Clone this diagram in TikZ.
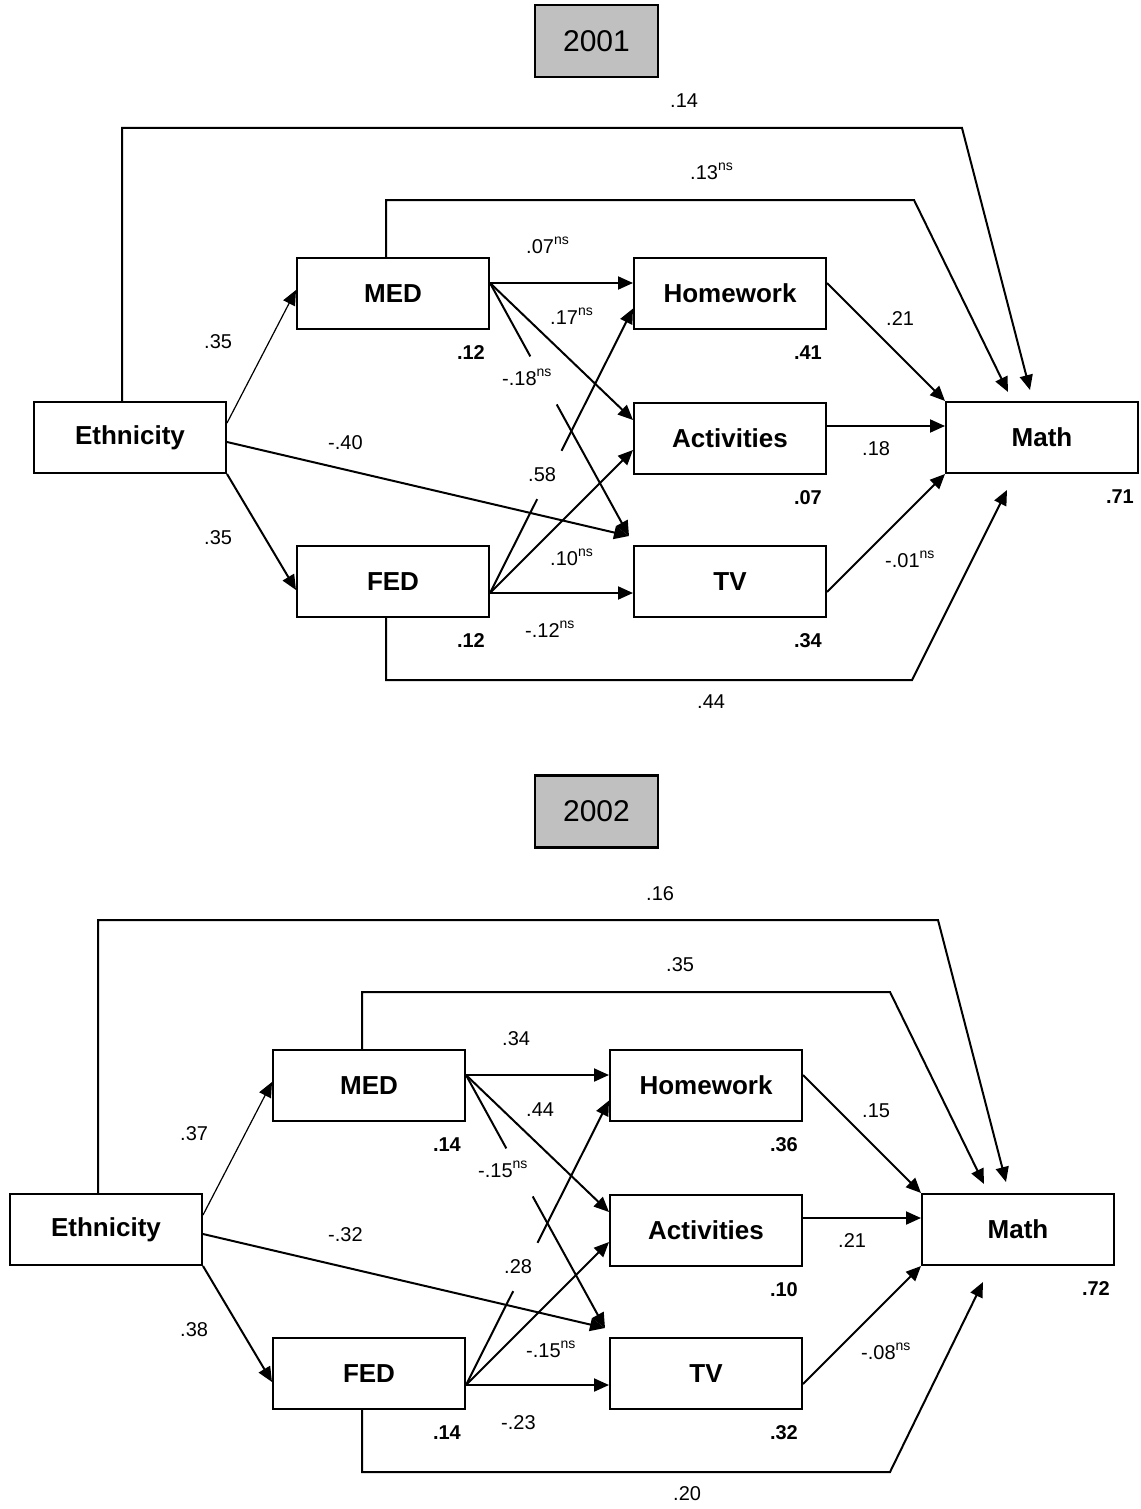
\documentclass[tikz,border=0pt]{standalone}
\usepackage{fontspec}
\setmainfont{Liberation Sans}
\usetikzlibrary{arrows.meta,calc}
\definecolor{yearfill}{HTML}{C0C0C0}
% superscript "ns" for non-significant coefficients
\newcommand\nsup{\raisebox{8.5pt}{\fontsize{14}{14}\selectfont ns}}
\tikzset{
  var/.style={draw, line width=2pt, minimum width=192pt, minimum height=71pt,
    inner sep=0pt, font=\fontsize{26}{30}\selectfont\bfseries},
  yearbox/.style={draw, line width=2.4pt, fill=yearfill, minimum width=123pt,
    minimum height=72pt, inner sep=0pt, font=\fontsize{30}{34}\selectfont},
  coef/.style={anchor=base west, inner sep=0pt, font=\fontsize{20}{24}\selectfont},
  rsq/.style={anchor=east, inner sep=0pt, font=\fontsize{20}{24}\selectfont\bfseries},
  link/.style={line width=2pt, -{Triangle[length=15pt,width=13pt]}},
  thinlink/.style={line width=1.2pt, -{Triangle[length=15pt,width=13pt]}},
  seg/.style={line width=2pt},
}
\begin{document}
\begin{tikzpicture}[x=1pt,y=-1pt]
\useasboundingbox (0,0) rectangle (1140,1509);

% ---------------- year headers ----------------
\node[yearbox] (yA) at (596.5,41) {2001};
\node[yearbox] (yB) at (596.5,811.5) {2002};

% ---------------- model 2001 ----------------
\begin{scope}
\node[var] (ethA)  at (130,437.5) {Ethnicity};
\node[var] (medA)  at (393,293.5) {MED};
\node[var] (fedA)  at (393,581.5) {FED};
\node[var] (hwA)   at (730,293.5) {Homework};
\node[var] (actA)  at (730,438)   {Activities};
\node[var] (tvA)   at (730,581.5) {TV};
\node[var] (mathA) at (1042,437.5) {Math};

\node[rsq] (rmedA)  at ($(medA.south east)+(-5,23)$)  {.12};
\node[rsq] (rfedA)  at ($(fedA.south east)+(-5,23)$)  {.12};
\node[rsq] (rhwA)   at ($(hwA.south east)+(-5,23)$)   {.41};
\node[rsq] (ractA)  at ($(actA.south east)+(-5,23)$)  {.07};
\node[rsq] (rtvA)   at ($(tvA.south east)+(-5,23)$)   {.34};
\node[rsq] (rmathA) at ($(mathA.south east)+(-5,23)$) {.71};

\coordinate (mpA) at ($(medA.east)+(0,-10.5)$);
\coordinate (fpA) at ($(fedA.east)+(0,11.5)$);
\coordinate (tvinA) at (629,536);
\coordinate (hwinA) at ($(hwA.west)+(0,15)$);
\coordinate (c14A) at (962,128);  \coordinate (t14A) at (1030,390);
\coordinate (c13A) at (914,200);  \coordinate (t13A) at (1008,392);
\coordinate (c44A) at (912,680);  \coordinate (t44A) at (1007,490);

\draw[thinlink] ($(ethA.east)+(0,-14.5)$) -- ($(medA.west)+(0,-3.5)$);
\draw[link] (ethA.south east) -- ($(fedA.west)+(0,8.5)$);
\draw[link] ($(ethA.east)+(0,4.5)$) -- (tvinA);

\draw[link] (mpA) -- (mpA -| hwA.west);
\draw[link] (mpA) -- ($(actA.west)+(0,-18)$);
\draw[seg]  (mpA) -- ($(mpA)!0.29!(tvinA)$);
\draw[link] ($(mpA)!0.48!(tvinA)$) -- (tvinA);

\draw[link] (fpA) -- (fpA -| tvA.west);
\draw[link] (fpA) -- ($(actA.west)+(0,12)$);
\draw[seg]  (fpA) -- ($(fpA)!0.33!(hwinA)$);
\draw[link] ($(fpA)!0.50!(hwinA)$) -- (hwinA);

\draw[link] ($(hwA.east)+(0,-10.5)$) -- (mathA.north west);
\draw[link] ($(actA.east)+(0,-12)$) -- ($(mathA.west)+(0,-11.5)$);
\draw[link] ($(tvA.east)+(0,10.5)$) -- (mathA.south west);

\draw[link] ($(ethA.north)+(-8,0)$) |- (c14A) -- (t14A);
\draw[link] ($(medA.north)+(-7,0)$) |- (c13A) -- (t13A);
\draw[link] ($(fedA.south)+(-7,0)$) |- (c44A) -- (t44A);

\node[coef] (l1A)  at (670,108) {.14};
\node[coef] (l2A)  at (690,179) {.13\nsup};
\node[coef] (l3A)  at (526,253) {.07\nsup};
\node[coef] (l4A)  at (550,324) {.17\nsup};
\node[coef] (l5A)  at (502,385) {-.18\nsup};
\node[coef] (l6A)  at (204,348) {.35};
\node[coef] (l7A)  at (328,449) {-.40};
\node[coef] (l8A)  at (528,481) {.58};
\node[coef] (l9A)  at (204,544) {.35};
\node[coef] (l10A) at (550,565) {.10\nsup};
\node[coef] (l11A) at (525,637) {-.12\nsup};
\node[coef] (l12A) at (697,708) {.44};
\node[coef] (l13A) at (886,325) {.21};
\node[coef] (l14A) at (862,455) {.18};
\node[coef] (l15A) at (885,567) {-.01\nsup};
\end{scope}

% ---------------- model 2002 ----------------
\begin{scope}[shift={(-24,792)}]
\node[var] (ethB)  at (130,437.5) {Ethnicity};
\node[var] (medB)  at (393,293.5) {MED};
\node[var] (fedB)  at (393,581.5) {FED};
\node[var] (hwB)   at (730,293.5) {Homework};
\node[var] (actB)  at (730,438)   {Activities};
\node[var] (tvB)   at (730,581.5) {TV};
\node[var] (mathB) at (1042,437.5) {Math};

\node[rsq] (rmedB)  at ($(medB.south east)+(-5,23)$)  {.14};
\node[rsq] (rfedB)  at ($(fedB.south east)+(-5,23)$)  {.14};
\node[rsq] (rhwB)   at ($(hwB.south east)+(-5,23)$)   {.36};
\node[rsq] (ractB)  at ($(actB.south east)+(-5,23)$)  {.10};
\node[rsq] (rtvB)   at ($(tvB.south east)+(-5,23)$)   {.32};
\node[rsq] (rmathB) at ($(mathB.south east)+(-5,23)$) {.72};

\coordinate (mpB) at ($(medB.east)+(0,-10.5)$);
\coordinate (fpB) at ($(fedB.east)+(0,11.5)$);
\coordinate (tvinB) at (629,536);
\coordinate (hwinB) at ($(hwB.west)+(0,15)$);
\coordinate (c14B) at (962,128);  \coordinate (t14B) at (1030,390);
\coordinate (c13B) at (914,200);  \coordinate (t13B) at (1008,392);
\coordinate (c44B) at (914,680);  \coordinate (t44B) at (1007,490);

\draw[thinlink] ($(ethB.east)+(0,-14.5)$) -- ($(medB.west)+(0,-3.5)$);
\draw[link] (ethB.south east) -- ($(fedB.west)+(0,8.5)$);
\draw[link] ($(ethB.east)+(0,4.5)$) -- (tvinB);

\draw[link] (mpB) -- (mpB -| hwB.west);
\draw[link] (mpB) -- ($(actB.west)+(0,-18)$);
\draw[seg]  (mpB) -- ($(mpB)!0.29!(tvinB)$);
\draw[link] ($(mpB)!0.48!(tvinB)$) -- (tvinB);

\draw[link] (fpB) -- (fpB -| tvB.west);
\draw[link] (fpB) -- ($(actB.west)+(0,12)$);
\draw[seg]  (fpB) -- ($(fpB)!0.33!(hwinB)$);
\draw[link] ($(fpB)!0.50!(hwinB)$) -- (hwinB);

\draw[link] ($(hwB.east)+(0,-10.5)$) -- (mathB.north west);
\draw[link] ($(actB.east)+(0,-12)$) -- ($(mathB.west)+(0,-11.5)$);
\draw[link] ($(tvB.east)+(0,10.5)$) -- (mathB.south west);

\draw[link] ($(ethB.north)+(-8,0)$) |- (c14B) -- (t14B);
\draw[link] ($(medB.north)+(-7,0)$) |- (c13B) -- (t13B);
\draw[link] ($(fedB.south)+(-7,0)$) |- (c44B) -- (t44B);

\node[coef] (l1B)  at (670,108) {.16};
\node[coef] (l2B)  at (690,179) {.35};
\node[coef] (l3B)  at (526,253) {.34};
\node[coef] (l4B)  at (550,324) {.44};
\node[coef] (l5B)  at (502,385) {-.15\nsup};
\node[coef] (l6B)  at (204,348) {.37};
\node[coef] (l7B)  at (352,449) {-.32};
\node[coef] (l8B)  at (528,481) {.28};
\node[coef] (l9B)  at (204,544) {.38};
\node[coef] (l10B) at (550,565) {-.15\nsup};
\node[coef] (l11B) at (525,637) {-.23};
\node[coef] (l12B) at (697,708) {.20};
\node[coef] (l13B) at (886,325) {.15};
\node[coef] (l14B) at (862,455) {.21};
\node[coef] (l15B) at (885,567) {-.08\nsup};
\end{scope}
\end{tikzpicture}
\end{document}
